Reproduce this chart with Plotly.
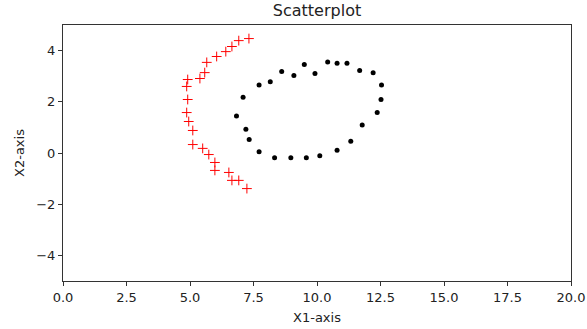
import plotly.graph_objects as go

red_x = [7.32, 6.92, 6.65, 6.41, 6.05, 5.66, 5.58, 5.39, 4.91, 4.87, 4.91, 4.87,
         4.95, 5.11, 5.11, 5.50, 5.74, 5.98, 5.98, 6.53, 6.65, 6.92, 7.24]
red_y = [4.47, 4.39, 4.16, 3.96, 3.77, 3.54, 3.14, 2.91, 2.87, 2.60, 2.09, 1.58,
         1.23, 0.88, 0.33, 0.18, -0.06, -0.37, -0.68, -0.76, -1.07, -1.07, -1.39]

black_x = [9.50, 10.42, 10.79, 11.18, 11.68, 12.21, 12.54, 12.52, 12.37, 11.78, 11.33,
           10.79, 10.11, 9.58, 8.97, 8.33, 7.72, 7.33, 7.20, 6.83, 7.09, 7.72, 8.16,
           8.61, 9.09, 9.92]
black_y = [3.46, 3.55, 3.51, 3.51, 3.22, 3.13, 2.66, 2.09, 1.58, 1.09, 0.46,
           0.11, -0.11, -0.19, -0.19, -0.19, 0.05, 0.53, 0.93, 1.45, 2.18, 2.66, 2.78,
           3.18, 3.03, 3.11]

x_ticks = [0, 2.5, 5, 7.5, 10, 12.5, 15, 17.5, 20]
y_ticks = [-4, -2, 0, 2, 4]

fig = go.Figure()
fig.add_trace(go.Scatter(
    x=red_x, y=red_y, mode="markers",
    marker=dict(symbol="cross-thin", size=7, line=dict(width=1, color="red"), color="red"),
    showlegend=False))
fig.add_trace(go.Scatter(
    x=black_x, y=black_y, mode="markers",
    marker=dict(symbol="circle", size=5, color="black"),
    showlegend=False))

FONT = "DejaVu Sans"
axis_common = dict(
    showline=True, mirror=True, linecolor="#333", linewidth=1,
    ticks="outside", ticklen=4, tickcolor="#333", tickwidth=1,
    showgrid=False, zeroline=False, automargin=False,
    tickfont=dict(family=FONT, size=13, color="#222"),
)

fig.update_layout(
    width=587, height=329,
    margin=dict(l=63, r=16, t=25, b=48),
    paper_bgcolor="white", plot_bgcolor="white",
    title=dict(text="Scatterplot", x=317 / 587, xanchor="center", xref="container",
               yref="container", y=1 - 10 / 329, yanchor="middle",
               font=dict(family=FONT, size=16, color="#222")),
    xaxis=dict(range=[0, 20], tickvals=x_ticks, tickformat=".1f",
               title=dict(text="X1-axis", standoff=9,
                          font=dict(family=FONT, size=13, color="#222")),
               **axis_common),
    yaxis=dict(range=[-5, 5], tickvals=y_ticks,
               title=dict(text="X2-axis", standoff=8,
                          font=dict(family=FONT, size=13, color="#222")),
               **axis_common),
)

fig.write_html("out.html", config={"displayModeBar": False},
               post_script="document.body.style.margin='0';")
